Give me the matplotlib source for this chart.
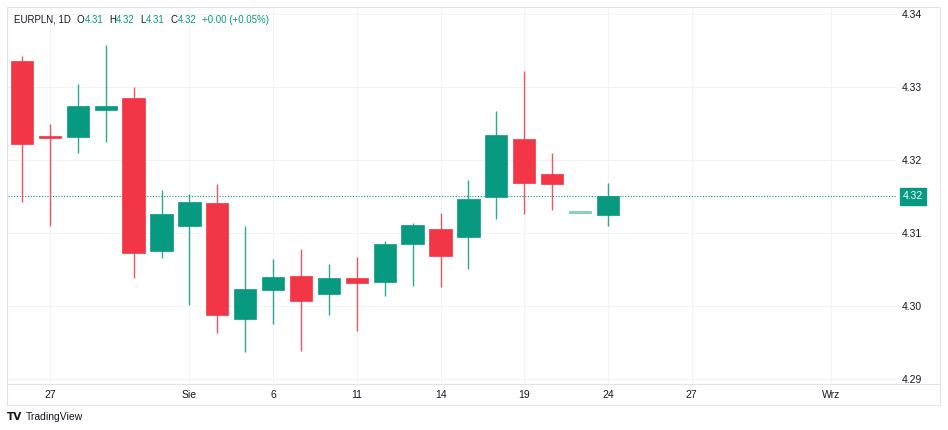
import matplotlib

matplotlib.use("Agg")
import matplotlib.pyplot as plt
from matplotlib.patches import Rectangle
from matplotlib.lines import Line2D

# EURPLN daily candles
opens = [4.3336, 4.3232, 4.3231, 4.3269, 4.3285, 4.3076, 4.3109, 4.3141, 4.2982, 4.3022, 4.3041,
         4.3017, 4.3039, 4.3033, 4.3085, 4.3105, 4.3095, 4.3149, 4.3229, 4.3181, 4.3127, 4.3124]
highs = [4.3342, 4.3249, 4.3304, 4.3358, 4.3300, 4.3159, 4.3153, 4.3167, 4.3110, 4.3065, 4.3078,
         4.3058, 4.3067, 4.3089, 4.3114, 4.3127, 4.3172, 4.3267, 4.3322, 4.3210, 4.3127, 4.3168]
lows = [4.3143, 4.3110, 4.3210, 4.3224, 4.3039, 4.3066, 4.3001, 4.2963, 4.2937, 4.2975, 4.2938,
        4.2987, 4.2966, 4.3014, 4.3028, 4.3026, 4.3050, 4.3119, 4.3126, 4.3132, 4.3127, 4.3110]
closes = [4.3222, 4.3230, 4.3274, 4.3274, 4.3073, 4.3126, 4.3142, 4.2987, 4.3023, 4.3040, 4.3007,
          4.3039, 4.3031, 4.3085, 4.3111, 4.3069, 4.3147, 4.3234, 4.3169, 4.3167, 4.3127, 4.3151]

tick_pos = [1, 6, 9, 12, 15, 18, 21, 24, 29]
tick_labels = ["27", "Sie", "6", "11", "14", "19", "24", "27", "Wrz"]
price_ticks = [4.29, 4.30, 4.31, 4.32, 4.33, 4.34]
last_price = 4.3150

UP = "#089981"
DOWN = "#f23645"
GRID = "#f0f3fa"
BORDER = "#e0e3eb"
TEXT = "#131722"
FONT = "Liberation Sans"

W, H = 948, 430
fig = plt.figure(figsize=(W / 100, H / 100), dpi=100)
fig.patch.set_facecolor("white")


def fx(px):
    return px / W


def fy(py):
    return 1 - py / H


ax = fig.add_axes([fx(8), fy(383), fx(897 - 8), (383 - 8) / H])
ax.set_facecolor("white")
ax.set_xlim(-0.502, 31.36)
ax.set_ylim(4.28945, 4.34082)

for s in ax.spines.values():
    s.set_visible(False)

ax.set_xticks(tick_pos)
ax.set_xticklabels(tick_labels)
ax.set_yticks(price_ticks)
ax.set_yticklabels([f"{p:.2f}" for p in price_ticks])
ax.yaxis.tick_right()
ax.tick_params(axis="x", length=0, pad=5, labelsize=7.5, labelcolor=TEXT)
ax.tick_params(axis="y", length=0, pad=3.5, labelsize=7.5, labelcolor=TEXT)
for lab in ax.get_xticklabels() + ax.get_yticklabels():
    lab.set_fontfamily(FONT)

ax.grid(True, color=GRID, linewidth=0.8)
ax.set_axisbelow(True)

# candles
for i, (o, h, l, c) in enumerate(zip(opens, highs, lows, closes)):
    col = UP if c >= o else DOWN
    alpha = 1.0
    if h == l:
        alpha = 0.45
    ax.vlines(i, l, h, color=col, linewidth=1.0, alpha=alpha * 0.85, zorder=2)
    body = max(abs(c - o), 0.00028)
    ax.bar(i, body, bottom=min(o, c), width=0.8, color=col, alpha=alpha,
           edgecolor=col, linewidth=0.5, zorder=3)

# last price line and label
ax.axhline(last_price, color=UP, linewidth=0.8, linestyle=(0, (1, 1.5)), zorder=1)
ax.text(1.0068, last_price, f"{last_price:.2f}", transform=ax.get_yaxis_transform(),
        ha="left", va="center", fontsize=7.5, color="white", family=FONT,
        bbox=dict(boxstyle="square,pad=0.3", facecolor=UP, edgecolor=UP), zorder=5,
        clip_on=False)

# chart frame and time axis separator
fig.add_artist(Rectangle((fx(7), fy(405)), fx(940 - 7), (405 - 7) / H, transform=fig.transFigure,
                         fill=False, edgecolor=BORDER, linewidth=0.8))
fig.add_artist(Line2D([fx(7), fx(940)], [fy(383.5), fy(383.5)], transform=fig.transFigure,
                      color=BORDER, linewidth=0.8))

# legend line: each piece placed right after the previous one (gap in points)
parts = [("O", TEXT, 4), ("4.31", UP, 0.3), ("H", TEXT, 4), ("4.32", UP, 0.3),
         ("L", TEXT, 4), ("4.31", UP, 0.3), ("C", TEXT, 4), ("4.32", UP, 0.3),
         ("+0.00 (+0.05%)", UP, 4)]
prev = fig.text(fx(14), fy(20), "EURPLN, 1D", fontsize=7, color=TEXT, va="center",
                ha="left", family=FONT)
for txt, col, gap in parts:
    prev = ax.annotate(txt, xy=(1, 0.5), xycoords=prev, xytext=(gap, 0),
                       textcoords="offset points", fontsize=7, color=col, va="center",
                       ha="left", family=FONT, annotation_clip=False)

# TradingView mark
fig.text(fx(7), fy(417), "TV", fontsize=7.5, fontweight="bold", color=TEXT, va="center",
         family="DejaVu Sans")
fig.text(fx(26), fy(417), "TradingView", fontsize=7.5, color=TEXT, va="center", family=FONT)

fig.savefig("out.png", dpi=100)
